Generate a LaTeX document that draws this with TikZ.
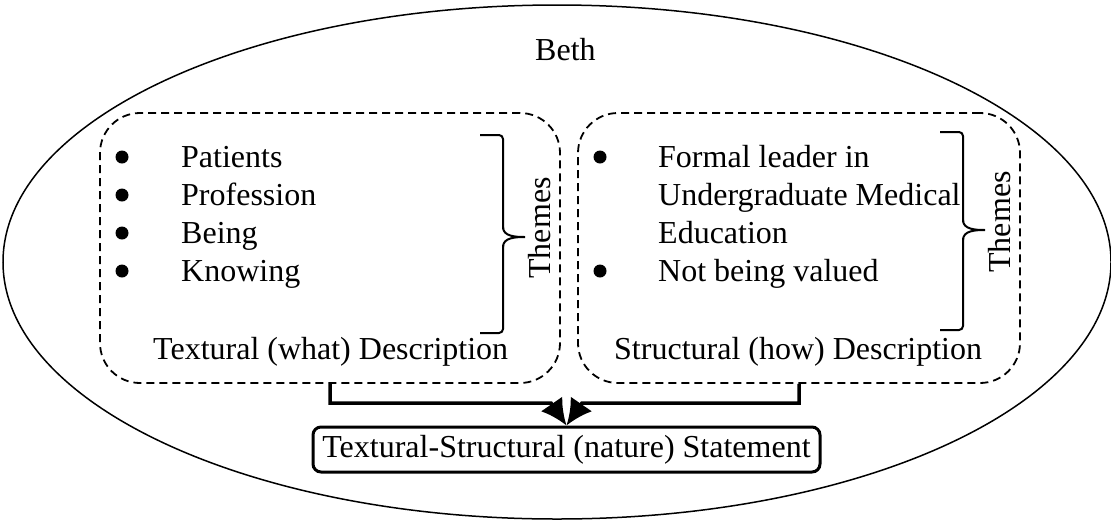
\documentclass[tikz,border=0pt]{standalone}
\usepackage{fontspec}
\setmainfont{Liberation Serif}
\usetikzlibrary{arrows.meta}
\begin{document}
\begin{tikzpicture}[x=1pt,y=-1pt,
  every node/.style={font=\fontsize{32}{38}\selectfont, inner sep=0pt},
  dashbox/.style={draw, line width=1.8pt, dash pattern=on 8pt off 5pt, rounded corners=40pt},
  item/.style={anchor=base west},
  dot/.style={circle, fill, minimum size=13pt, inner sep=0pt},
  brace/.style={line width=2pt, rounded corners=4pt},
  flow/.style={line width=3.5pt, -{Latex[length=26pt,width=26pt]}},
  result/.style={draw, line width=3pt, rounded corners=8pt, minimum width=507pt, minimum height=45pt}
]
\useasboundingbox (0,0) rectangle (1111,520);

% outer participant ellipse
\draw[line width=1.5pt] (557,262) ellipse [x radius=554, y radius=257];
\node[item] (beth) at (535,60) {Beth};

% textural description box
\node[dashbox, minimum width=460pt, minimum height=270pt] (tbox) at (330,248) {};
\node[dot] (b1) at (122,157) {};
\node[dot] (b2) at (122,195) {};
\node[dot] (b3) at (122,233) {};
\node[dot] (b4) at (122,271) {};
\node[item] (t1) at (181,167) {Patients};
\node[item] (t2) at (181,205) {Profession};
\node[item] (t3) at (181,243) {Being};
\node[item] (t4) at (181,281) {Knowing};
\node[item] (tdesc) at (153,359) {Textural (what) Description};
\draw[brace] (480,135) -- (503,135) -- (503,229);
\draw[line width=2pt] (503,227) to[out=-90,in=180] (525,237) to[out=180,in=90] (503,247);
\draw[brace] (503,245) -- (503,333) -- (480,333);
\node[rotate=90] (th1) at (540,228) {Themes};

% structural description box
\node[dashbox, minimum width=442pt, minimum height=270pt] (sbox) at (799,248) {};
\node[dot] (c1) at (600,157) {};
\node[dot] (c2) at (600,271) {};
\node[item] (s1) at (658,167) {Formal leader in};
\node[item] (s2) at (658,205) {Undergraduate Medical};
\node[item] (s3) at (658,243) {Education};
\node[item] (s4) at (658,281) {Not being valued};
\node[item] (sdesc) at (614,359) {Structural (how) Description};
\draw[brace] (940,132) -- (963,132) -- (963,222);
\draw[line width=2pt] (963,220) to[out=-90,in=180] (985,230) to[out=180,in=90] (963,240);
\draw[brace] (963,238) -- (963,330) -- (940,330);
\node[rotate=90] (th2) at (1000,222) {Themes};

% combined statement
\node[result] (stmt) at (566.5,449.5) {Textural-Structural (nature) Statement};
\coordinate (jl) at (551,403);
\coordinate (jr) at (582,403);
\draw[flow] (tbox.south) |- (jl) -- (stmt.north);
\draw[flow] (sbox.south) |- (jr) -- (stmt.north);
\end{tikzpicture}
\end{document}
